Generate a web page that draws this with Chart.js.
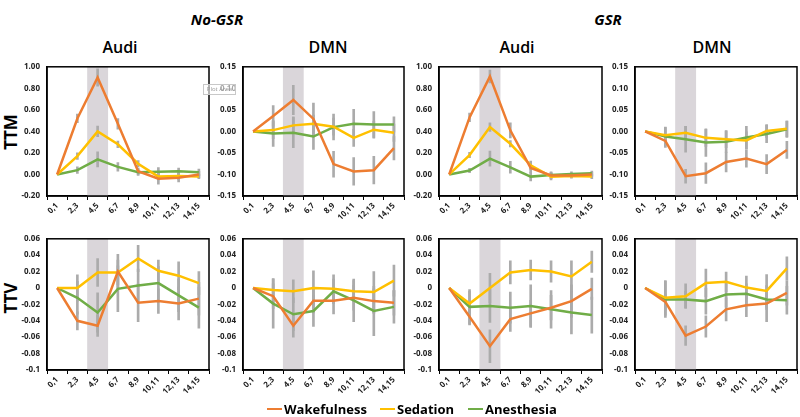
<!DOCTYPE html>
<html>
<head>
<meta charset="utf-8">
<script src="https://cdn.jsdelivr.net/npm/chart.js@4.4.1/dist/chart.umd.min.js"></script>
<style>
  body { margin: 0; width: 800px; height: 417px; background: #fff; position: relative; overflow: hidden; font-family: 'Open Sans', sans-serif; color: #000; }
  canvas { position: absolute; }
  .lbl { position: absolute; white-space: nowrap; transform: translate(-50%, -50%); }
  .group { font-size: 15px; font-weight: 700; font-style: italic; }
  .title { font-size: 16px; font-weight: 600; }
  .rowlbl { font-size: 17px; font-weight: 700; transform: translate(-50%, -50%) rotate(-90deg); }
  .legItem { position: absolute; top: 400px; display: flex; align-items: center; font-size: 13px; font-weight: 700; color: #000; white-space: nowrap; }
  .legItem .swatch { width: 15px; height: 2.5px; margin-right: 2px; }
  #plotTip { position: absolute; left: 203px; top: 84px; width: 31px; height: 9px; border: 1px solid #c8c8c8; background: rgba(255,255,255,0.6); font-size: 6px; line-height: 9px; color: #999; text-align: center; }
</style>
</head>
<body>

<div class="lbl group" style="left:217px; top:19px;">No-GSR</div>
<div class="lbl group" style="left:608px; top:19px;">GSR</div>
<div class="lbl title" style="left:120px; top:47px;">Audi</div>
<div class="lbl title" style="left:328px; top:47px;">DMN</div>
<div class="lbl title" style="left:517px; top:47px;">Audi</div>
<div class="lbl title" style="left:712px; top:47px;">DMN</div>
<div class="lbl rowlbl" style="left:10px; top:132px;">TTM</div>
<div class="lbl rowlbl" style="left:10px; top:298px;">TTV</div>

<script>
const categories = ["0,1", "2,3", "4,5", "6,7", "8,9", "10,11", "12,13", "14,15"];
const seriesNames = ["Wakefulness", "Sedation", "Anesthesia"];
const shadedCategory = "4,5";

const ttmAudiTicks = [-0.2, 0, 0.2, 0.4, 0.6, 0.8, 1.0];
const ttmDmnTicks = [-0.15, -0.1, -0.05, 0, 0.05, 0.1, 0.15];
const ttvTicks = [-0.1, -0.08, -0.06, -0.04, -0.02, 0, 0.02, 0.04, 0.06];

// rows: Wakefulness, Sedation, Anesthesia
const noGsrTtmAudi = [
  [0, 0.52, 0.90, 0.47, 0.03, -0.04, -0.03, 0.00],
  [0, 0.17, 0.40, 0.28, 0.10, -0.02, -0.015, -0.02],
  [0, 0.04, 0.14, 0.07, 0.02, 0.025, 0.03, 0.02]
];
const noGsrTtmAudiErr = [
  [null, 0.04, 0.08, 0.05, 0.03, 0.05, 0.04, 0.03],
  [null, 0.03, 0.05, 0.03, 0.03, 0.03, 0.03, 0.02],
  [null, 0.03, 0.07, 0.04, 0.03, 0.04, 0.03, 0.03]
];

const noGsrTtmDmn = [
  [0, 0.036, 0.073, 0.029, -0.076, -0.093, -0.090, -0.039],
  [0, 0.003, 0.014, 0.018, 0.011, -0.015, 0.004, -0.003],
  [0, -0.005, -0.003, -0.012, 0.010, 0.018, 0.016, 0.016]
];
const noGsrTtmDmnErr = [
  [null, 0.024, 0.034, 0.037, 0.030, 0.032, 0.032, 0.027],
  [null, 0.02, 0.02, 0.02, 0.02, 0.02, 0.02, 0.02],
  [null, 0.03, 0.035, 0.03, 0.03, 0.033, 0.03, 0.018]
];

const gsrTtmAudi = [
  [0, 0.53, 0.91, 0.41, 0.06, -0.01, -0.01, 0.00],
  [0, 0.18, 0.44, 0.285, 0.085, -0.02, -0.015, -0.02],
  [0, 0.036, 0.147, 0.066, -0.02, -0.005, 0.005, 0.012]
];
const gsrTtmAudiErr = [
  [null, 0.04, 0.06, 0.07, 0.04, 0.03, 0.02, 0.02],
  [null, 0.025, 0.04, 0.03, 0.04, 0.03, 0.02, 0.02],
  [null, 0.02, 0.07, 0.055, 0.04, 0.03, 0.02, 0.02]
];

const gsrTtmDmn = [
  [0, -0.022, -0.104, -0.097, -0.071, -0.063, -0.076, -0.043],
  [0, -0.009, -0.003, -0.015, -0.018, -0.021, 0.001, 0.006],
  [0, -0.012, -0.018, -0.026, -0.024, -0.014, -0.006, 0.005]
];
const gsrTtmDmnErr = [
  [null, 0.015, 0.016, 0.024, 0.023, 0.02, 0.022, 0.02],
  [null, 0.018, 0.015, 0.02, 0.02, 0.02, 0.015, 0.018],
  [null, 0.022, 0.03, 0.032, 0.025, 0.026, 0.02, 0.019]
];

const noGsrTtvAudi = [
  [0, -0.040, -0.046, 0.020, -0.018, -0.016, -0.019, -0.013],
  [0, 0.000, 0.019, 0.019, 0.036, 0.021, 0.015, 0.006],
  [0, -0.012, -0.030, -0.001, 0.003, 0.006, -0.009, -0.024]
];
const noGsrTtvAudiErr = [
  [null, 0.011, 0.013, 0.021, 0.023, 0.015, 0.02, 0.02],
  [null, 0.016, 0.017, 0.015, 0.016, 0.013, 0.017, 0.014],
  [null, 0.02, 0.024, 0.028, 0.02, 0.02, 0.02, 0.025]
];

const noGsrTtvDmn = [
  [0, -0.010, -0.046, -0.0155, -0.0155, -0.012, -0.016, -0.018],
  [0, -0.0025, -0.004, 0.000, -0.001, -0.004, -0.005, 0.009],
  [0, -0.019, -0.032, -0.028, -0.004, -0.015, -0.028, -0.023]
];
const noGsrTtvDmnErr = [
  [null, 0.015, 0.014, 0.015, 0.016, 0.015, 0.015, 0.015],
  [null, 0.014, 0.014, 0.021, 0.017, 0.013, 0.025, 0.019],
  [null, 0.03, 0.02, 0.019, 0.015, 0.026, 0.03, 0.02]
];

const gsrTtvAudi = [
  [0, -0.035, -0.071, -0.038, -0.031, -0.024, -0.016, -0.001],
  [0, -0.019, 0.000, 0.019, 0.022, 0.020, 0.014, 0.032],
  [0, -0.023, -0.022, -0.024, -0.022, -0.026, -0.030, -0.033]
];
const gsrTtvAudiErr = [
  [null, 0.01, 0.02, 0.015, 0.016, 0.015, 0.02, 0.013],
  [null, 0.015, 0.018, 0.014, 0.012, 0.013, 0.019, 0.013],
  [null, 0.021, 0.02, 0.019, 0.026, 0.023, 0.026, 0.022]
];

const gsrTtvDmn = [
  [0, -0.017, -0.058, -0.047, -0.026, -0.021, -0.019, -0.006],
  [0, -0.012, -0.010, 0.006, 0.0075, 0.0005, -0.0035, 0.024],
  [0, -0.014, -0.014, -0.016, -0.008, -0.007, -0.014, -0.015]
];
const gsrTtvDmnErr = [
  [null, 0.01, 0.012, 0.013, 0.014, 0.014, 0.022, 0.015],
  [null, 0.021, 0.015, 0.017, 0.012, 0.014, 0.02, 0.014],
  [null, 0.022, 0.01, 0.016, 0.015, 0.012, 0.012, 0.017]
];

const lineColors = ["#ED7D31", "#FFC000", "#70AD47"];

Chart.defaults.font.family = "'Open Sans', sans-serif";
Chart.defaults.font.size = 8;
Chart.defaults.font.weight = "bold";
Chart.defaults.color = "#222";

const fixed2 = v => (Math.round(v * 100) / 100).toFixed(2);
const general = v => { const r = Math.round(v * 100) / 100; return r === 0 ? "0" : String(r); };

// outline of the plot area (top and right sides too)
const plotBox = {
  id: "plotBox",
  afterDatasetsDraw(chart) {
    const { ctx, chartArea: a } = chart;
    ctx.save();
    ctx.strokeStyle = "#000";
    ctx.lineWidth = 1.5;
    ctx.strokeRect(a.left, a.top, a.right - a.left, a.bottom - a.top);
    ctx.restore();
  }
};

const panels = [
  { left: 47, right: 209, top: 63, bottom: 196, values: noGsrTtmAudi, errors: noGsrTtmAudiErr, ticks: ttmAudiTicks, fmt: fixed2 },
  { left: 243, right: 404, top: 63, bottom: 196, values: noGsrTtmDmn, errors: noGsrTtmDmnErr, ticks: ttmDmnTicks, fmt: fixed2 },
  { left: 439, right: 602, top: 63, bottom: 196, values: gsrTtmAudi, errors: gsrTtmAudiErr, ticks: ttmAudiTicks, fmt: fixed2 },
  { left: 635, right: 797, top: 63, bottom: 196, values: gsrTtmDmn, errors: gsrTtmDmnErr, ticks: ttmDmnTicks, fmt: fixed2 },
  { left: 47, right: 209, top: 235, bottom: 370, values: noGsrTtvAudi, errors: noGsrTtvAudiErr, ticks: ttvTicks, fmt: general },
  { left: 243, right: 404, top: 235, bottom: 370, values: noGsrTtvDmn, errors: noGsrTtvDmnErr, ticks: ttvTicks, fmt: general },
  { left: 439, right: 602, top: 235, bottom: 370, values: gsrTtvAudi, errors: gsrTtvAudiErr, ticks: ttvTicks, fmt: general },
  { left: 635, right: 797, top: 235, bottom: 370, values: gsrTtvDmn, errors: gsrTtvDmnErr, ticks: ttvTicks, fmt: general }
];

function makePanel(p) {
  const padTop = 8, padRight = 4, yW = 40, xH = 32;
  const w = yW + (p.right - p.left) + padRight;
  const h = padTop + (p.bottom - p.top) + xH;
  const canvas = document.createElement("canvas");
  canvas.width = w;
  canvas.height = h;
  canvas.style.left = (p.left - yW) + "px";
  canvas.style.top = (p.top - padTop) + "px";
  canvas.style.width = w + "px";
  canvas.style.height = h + "px";
  document.body.appendChild(canvas);

  const yMin = p.ticks[0];
  const yMax = p.ticks[p.ticks.length - 1];

  const datasets = [];
  datasets.push({
    type: "bar",
    data: categories.map(c => c === shadedCategory ? [yMin, yMax] : null),
    backgroundColor: "#DAD6DA",
    barPercentage: 1,
    categoryPercentage: 1,
    grouped: false,
    order: 10
  });
  p.values.forEach((vals, s) => {
    datasets.push({
      type: "bar",
      data: vals.map((v, i) => p.errors[s][i] == null ? null : [v - p.errors[s][i], v + p.errors[s][i]]),
      backgroundColor: "#ABABAB",
      barThickness: 2,
      grouped: false,
      order: 5
    });
  });
  p.values.forEach((vals, s) => {
    datasets.push({
      type: "line",
      label: seriesNames[s],
      data: vals,
      borderColor: lineColors[s],
      borderWidth: 2.5,
      pointRadius: 0,
      tension: 0,
      fill: false,
      order: 1
    });
  });

  new Chart(canvas, {
    type: "bar",
    data: { labels: categories, datasets: datasets },
    options: {
      responsive: false,
      animation: false,
      layout: { padding: { top: padTop, right: padRight, left: 0, bottom: 0 } },
      plugins: { legend: { display: false }, tooltip: { enabled: false } },
      scales: {
        x: {
          type: "category",
          offset: true,
          afterFit: s => { s.height = xH; },
          grid: { display: true, offset: true, drawOnChartArea: false, drawTicks: true, tickLength: 4, color: "#000", lineWidth: 1 },
          border: { display: true, color: "#000", width: 1.5 },
          ticks: { autoSkip: false, minRotation: 45, maxRotation: 45, padding: 1 }
        },
        y: {
          min: yMin,
          max: yMax,
          afterFit: s => { s.width = yW; },
          afterBuildTicks: s => { s.ticks = p.ticks.map(v => ({ value: v })); },
          grid: { display: false, drawTicks: false },
          border: { display: true, color: "#000", width: 1.5 },
          ticks: { padding: 7, callback: v => p.fmt(v) }
        }
      }
    },
    plugins: [plotBox]
  });
}

panels.forEach(makePanel);

// "Plot Area" hover box seen on the second panel
const tip = document.createElement("div");
tip.id = "plotTip";
tip.textContent = "Plot Area";
document.body.appendChild(tip);

// legend below the panels
const legendLeft = [267, 380, 468];
seriesNames.forEach((name, s) => {
  const item = document.createElement("div");
  item.className = "legItem";
  item.style.left = legendLeft[s] + "px";
  item.innerHTML = `<span class="swatch" style="background:${lineColors[s]}"></span><span style="color:#000">${name}</span>`;
  document.body.appendChild(item);
});
</script>
</body>
</html>
